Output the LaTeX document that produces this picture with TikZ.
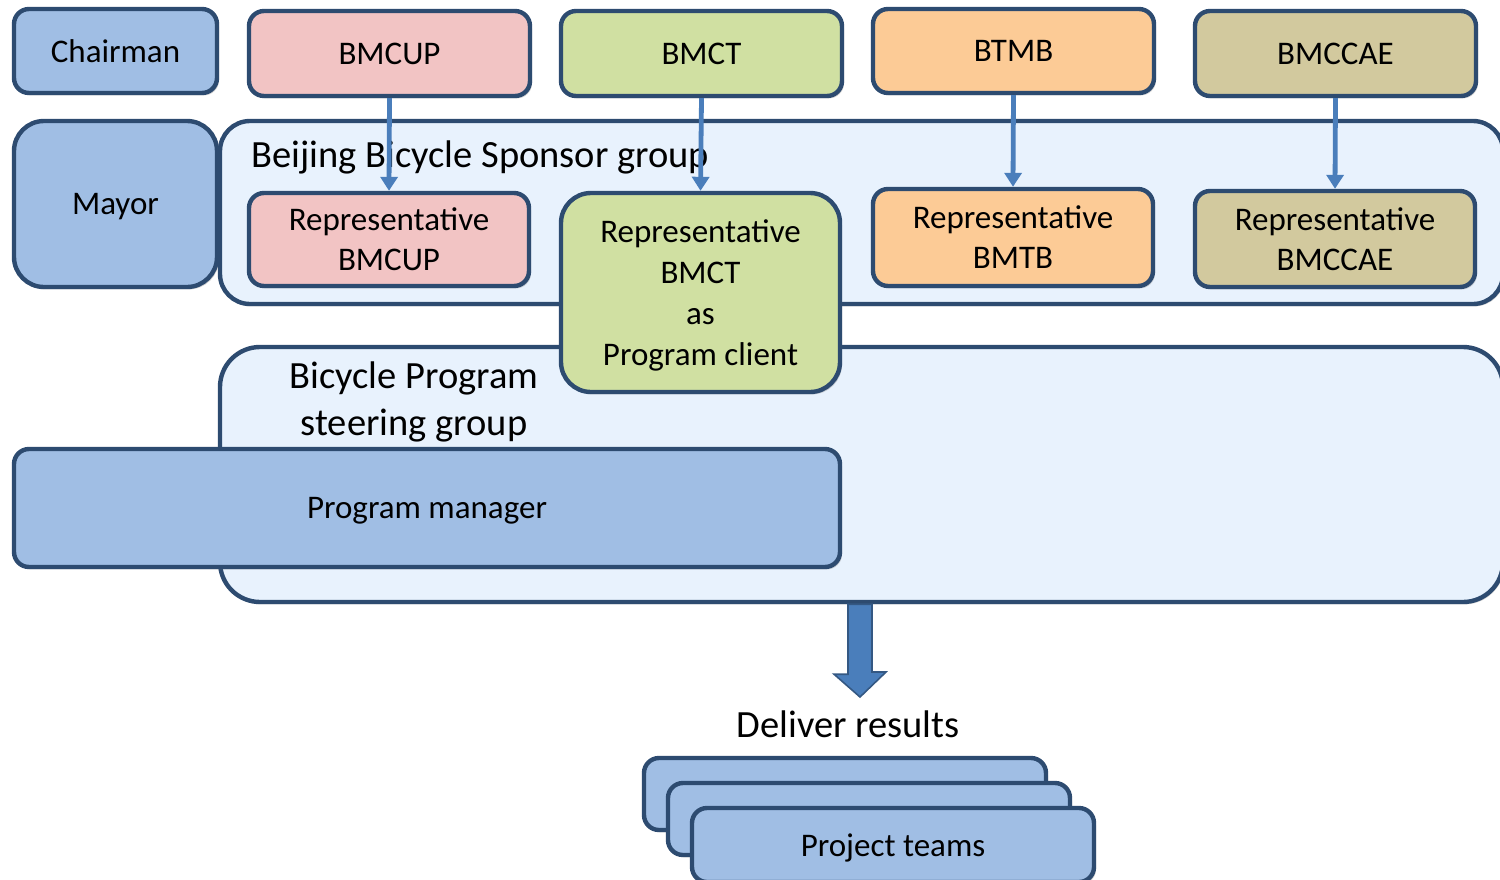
\documentclass[tikz,border=0pt]{standalone}
\usepackage{fontspec}
\setmainfont{Carlito}
\usetikzlibrary{arrows.meta,shadows}
\definecolor{bluefill}{HTML}{A0BEE4}
\definecolor{pinkfill}{HTML}{F2C4C4}
\definecolor{greenfill}{HTML}{D0E0A2}
\definecolor{orangefill}{HTML}{FCCB96}
\definecolor{tanfill}{HTML}{D2C99E}
\definecolor{contfill}{HTML}{E8F2FD}
\definecolor{bordercol}{HTML}{2D4B70}
\definecolor{arrowcol}{HTML}{4A7EBB}
\tikzset{
  boxbase/.style={draw=bordercol, line width=2.2pt, rounded corners=7.5pt, align=center,
    inner sep=0pt, text depth=0pt, font=\fontsize{16.5}{20}\selectfont,
    drop shadow={shadow xshift=1pt, shadow yshift=-1.2pt, opacity=0.35}},
  bluebox/.style={boxbase, fill=bluefill},
  pinkbox/.style={boxbase, fill=pinkfill},
  greenbox/.style={boxbase, fill=greenfill},
  orangebox/.style={boxbase, fill=orangefill},
  tanbox/.style={boxbase, fill=tanfill},
  container/.style={draw=bordercol, line width=2.2pt, fill=contfill, inner sep=0pt,
    drop shadow={shadow xshift=0.8pt, shadow yshift=-1.2pt, opacity=0.35}},
  thinarrow/.style={draw=arrowcol, line width=2.4pt, -{Triangle[width=8.5pt,length=7pt]}},
  bigtext/.style={font=\fontsize{19.25}{23.5}\selectfont, align=center, inner sep=0pt},
  bigarrow/.style={fill=arrowcol, draw=arrowcol!70!black, line width=0.8pt, line join=miter},
}
\begin{document}
\begin{tikzpicture}[x=0.5pt,y=-0.5pt]
\useasboundingbox (0,0) rectangle (1500,879);
% top row
\node[bluebox, minimum width=101.5pt, minimum height=42pt] (chair) at (115.5,51) {Chairman};
\node[pinkbox, minimum width=140.5pt, minimum height=42.5pt] (bmcup) at (389.5,53.5) {BMCUP};
\node[greenbox, minimum width=140.5pt, minimum height=42.5pt] (bmct) at (701.5,53.5) {BMCT};
\node[orangebox, minimum width=140.5pt, minimum height=42pt] (btmb) at (1013.5,51) {BTMB};
\node[tanbox, minimum width=140.5pt, minimum height=42.5pt] (bmccae) at (1335.5,53.5) {BMCCAE};
% mayor
\node[bluebox, rounded corners=15pt, minimum width=101.5pt, minimum height=83pt] (mayor) at (115.5,204) {Mayor};
% containers
\node[container, rounded corners=15pt, minimum width=641.5pt, minimum height=91.5pt] (sponsor) at (861.5,212.5) {};
\node[container, rounded corners=20pt, minimum width=641.5pt, minimum height=127.5pt] (steer) at (861.5,474.5) {};
\node[bigtext, anchor=west] (sponsorlbl) at (251,157) {Beijing Bicycle Sponsor group};
\node[bigtext] (steerlbl) at (414,402) {Bicycle Program\\steering group};
% representatives
\node[pinkbox, minimum width=140pt, minimum height=46.5pt] (rbmcup) at (389,239.5) {Representative\\BMCUP};
\node[greenbox, rounded corners=15pt, minimum width=139.5pt, minimum height=99.5pt, font=\fontsize{16.5}{20.5}\selectfont] (rbmct) at (700.5,292.5) {Representative\\BMCT\\as\\Program client};
\node[orangebox, minimum width=140pt, minimum height=48.5pt] (rbtmb) at (1013,237.5) {Representative\\BMTB};
\node[tanbox, minimum width=140pt, minimum height=48pt] (rbmccae) at (1335,239) {Representative\\BMCCAE};
% program manager
\node[bluebox, minimum width=413pt, minimum height=59pt] (pm) at (427,508) {Program manager};
% arrows
\draw[thinarrow] (bmcup.south) -- (rbmcup.north);
\draw[thinarrow] (bmct.south) -- (rbmct.north);
\draw[thinarrow] (btmb.south) -- (rbtmb.north);
\draw[thinarrow] (bmccae.south) -- (rbmccae.north);
% big arrow
\coordinate (tip) at (860,697);
\draw[bigarrow] ([xshift=-6pt]tip |- steer.south) -- ++(0,70) -- ++(-14,0) -- (tip)
  -- ++(26,-25) -- ++(-14,0) -- ([xshift=6pt]tip |- steer.south) -- cycle;
\node[bigtext] (deliver) at (848,724) {Deliver results};
% project teams
\node[bluebox, minimum width=201pt, minimum height=36pt] (pt1) at (845,794) {};
\node[bluebox, minimum width=201pt, minimum height=36pt] (pt2) at (869,819) {};
\node[bluebox, minimum width=201pt, minimum height=37pt] (pt3) at (893,845) {Project teams};
\end{tikzpicture}
\end{document}
